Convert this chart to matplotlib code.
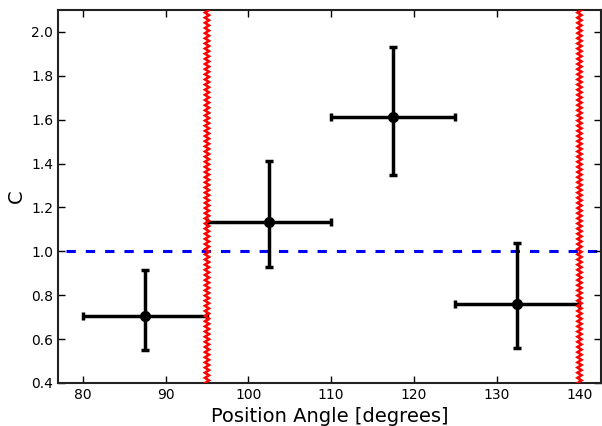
import numpy as np
import matplotlib
matplotlib.use('Agg')
import matplotlib.pyplot as plt
import matplotlib.transforms as mtransforms

# bins in position angle
pa = [87.5, 102.5, 117.5, 132.5]
pa_err = [7.5, 7.5, 7.5, 7.5]
c_val = [0.705, 1.136, 1.614, 0.759]
c_lo = [0.55, 0.927, 1.35, 0.559]
c_hi = [0.914, 1.414, 1.932, 1.036]
edges = [95, 140]
ref_level = 1.0

yerr = np.array([np.array(c_val) - np.array(c_lo), np.array(c_hi) - np.array(c_val)])

fig = plt.figure(figsize=(6.02, 4.26), dpi=100)
ax = fig.add_axes([58 / 602., 43 / 426., 543 / 602., 373 / 426.])

ax.axhline(ref_level, color='blue', linewidth=2.2, linestyle=(3.7, (3.05, 3.27)), zorder=1)

# zigzag vertical lines (wiggle is just a style)
trans = mtransforms.blended_transform_factory(ax.transData, ax.transAxes)
nz = 146
zz_y = np.linspace(0, 1, nz)
zz_dx = 0.25 * np.where(np.arange(nz) % 2 == 0, -1, 1)
for e in edges:
    ax.plot(e + zz_dx, zz_y, color='red', linewidth=1.8, transform=trans, zorder=3,
            solid_joinstyle='miter')

ax.errorbar(pa, c_val, xerr=pa_err, yerr=yerr, fmt='o', color='black',
            markersize=7, elinewidth=2.5, capsize=3, capthick=2.5, zorder=2)

ax.set_xlim(77, 142.6)
ax.set_ylim(0.4, 2.1)
ax.set_xticks([80, 90, 100, 110, 120, 130, 140])
ax.set_yticks(np.arange(0.4, 2.01, 0.2))
ax.tick_params(direction='in', top=True, right=True, length=5, width=1, labelsize=10)
for s in ax.spines.values():
    s.set_linewidth(1.5)
    s.set_color('#222222')

ax.set_xlabel('Position Angle [degrees]', fontsize=14)
ax.set_ylabel('C', fontsize=14)

fig.savefig('out.png', dpi=100)
